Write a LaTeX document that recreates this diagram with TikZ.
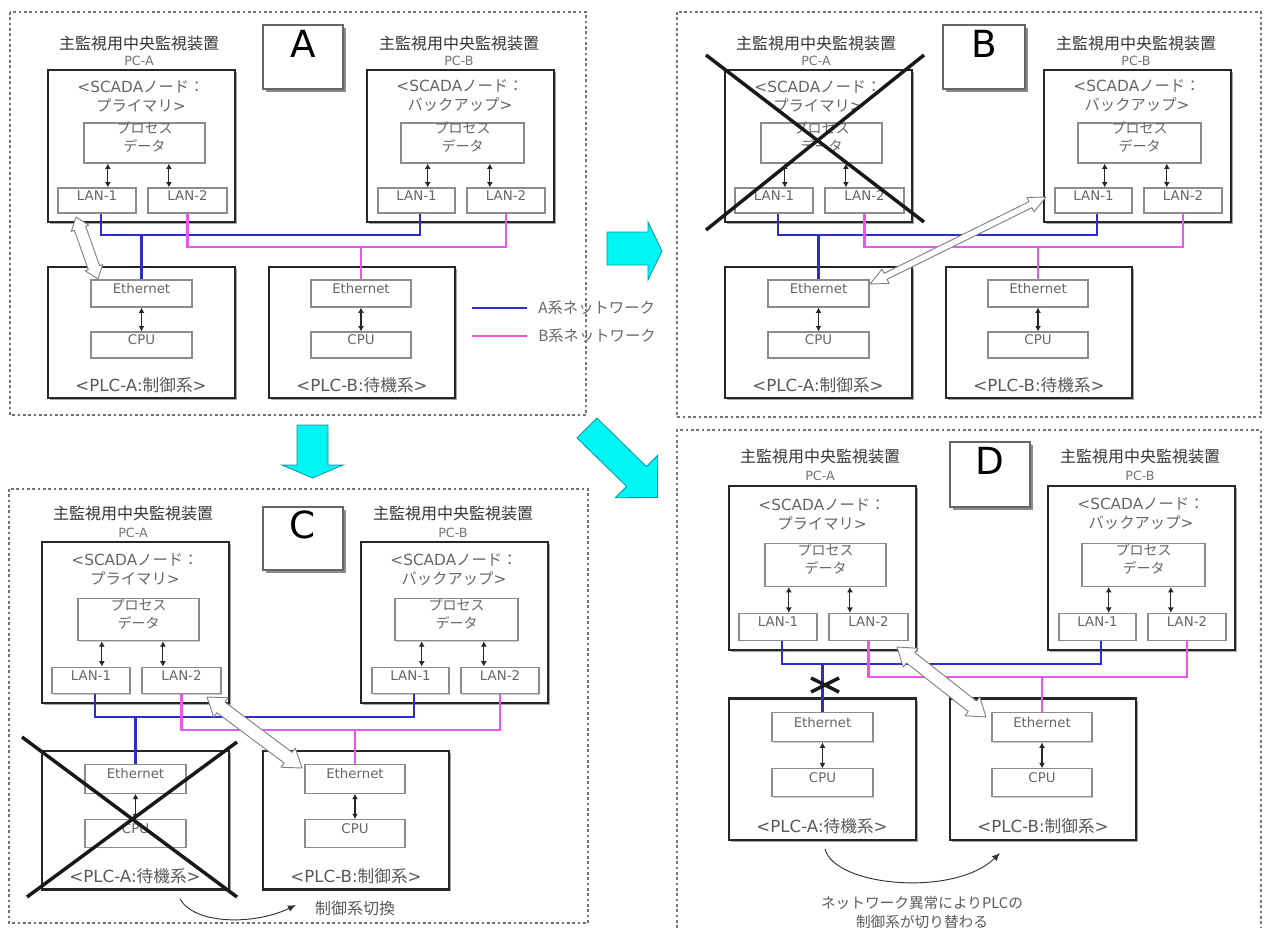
\documentclass[tikz,border=0pt]{standalone}
\usepackage{fontspec}
\setmainfont{Noto Sans CJK JP}
\newfontfamily\lat{DejaVu Sans}
\usetikzlibrary{calc,fit,arrows.meta,shadows}

\definecolor{netA}{RGB}{45,45,205}
\definecolor{netB}{RGB}{235,85,235}
\definecolor{flowcyan}{RGB}{0,245,245}
\definecolor{flowedge}{RGB}{0,150,160}

% 每个面板共用的构成（PC-A/PC-B 与 PLC-A/PLC-B）
\newcommand{\scadapanel}[2]{%
  % 上段：两台中央监视装置
  \node[titletext] (tita) at (139,43) {主監視用中央監視装置};
  \node[pctext] (pcta) at (139,61) {PC-A};
  \node[titletext] (titb) at (459,43) {主監視用中央監視装置};
  \node[pctext] (pctb) at (459,61) {PC-B};
  \node[pcbox, fit={(48,70) (235,222)}] (pca) {};
  \node[pcbox, fit={(367,70) (554,222)}] (pcb) {};
  \node[scadatext] (scda) at (141,96) {{\lat <SCADA}ノード：\\プライマリ{\lat >}};
  \node[scadatext] (scdb) at (460,96) {{\lat <SCADA}ノード：\\バックアップ{\lat >}};
  \node[databox, fit={(84,123) (205,163)}] (pda) {プロセス\\データ};
  \node[databox, fit={(401,123) (524,163)}] (pdb) {プロセス\\データ};
  \node[inbox, fit={(58,188) (136,213)}] (la1) {LAN-1};
  \node[inbox, fit={(148,188) (227,213)}] (la2) {LAN-2};
  \node[inbox, fit={(378,188) (455,213)}] (lb1) {LAN-1};
  \node[inbox, fit={(467,188) (545,213)}] (lb2) {LAN-2};
  % 数据与 LAN 之间的双向箭头
  \coordinate (pa1) at ($(pda.south west)!0.2!(pda.south east)$);
  \coordinate (pa2) at ($(pda.south west)!0.7!(pda.south east)$);
  \coordinate (pb1) at ($(pdb.south west)!0.22!(pdb.south east)$);
  \coordinate (pb2) at ($(pdb.south west)!0.72!(pdb.south east)$);
  \draw[dblarrow] (pa1) -- (pa1 |- la1.north);
  \draw[dblarrow] (pa2) -- (pa2 |- la2.north);
  \draw[dblarrow] (pb1) -- (pb1 |- lb1.north);
  \draw[dblarrow] (pb2) -- (pb2 |- lb2.north);
  % 下段：两台 PLC
  \node[pcbox, fit={(48,267) (235,398)}] (plca) {};
  \node[pcbox, fit={(269,267) (455,398)}] (plcb) {};
  \node[inbox, fit={(91,280) (192,307)}] (ea) {Ethernet};
  \node[inbox, fit={(91,332) (192,358)}] (ca) {CPU};
  \node[inbox, fit={(311,280) (411,307)}] (eb) {Ethernet};
  \node[inbox, fit={(311,332) (411,358)}] (cb) {CPU};
  \draw[dblarrow] (ea) -- (ca);
  \draw[dblarrow] (eb) -- (cb);
  \node[plctext] (plta) at (141,385) {{\lat <PLC-A:}#1{\lat >}};
  \node[plctext] (pltb) at (362,385) {{\lat <PLC-B:}#2{\lat >}};
  % A系 / B系 网络
  \coordinate (na1) at ($(la1.south west)!0.55!(la1.south east)$);
  \coordinate (nb1) at ($(lb1.south west)!0.55!(lb1.south east)$);
  \coordinate (busa) at (0,235);
  \coordinate (busb) at (0,247);
  \draw[neta] (na1) -- (na1 |- busa) -- (nb1 |- busa) -- (nb1);
  \draw[neta] (ea.north |- busa) -- (ea.north);
  \draw[netb] (la2.south) -- (la2.south |- busb) -- (lb2.south |- busb) -- (lb2.south);
  \draw[netb] (eb.north |- busb) -- (eb.north);
}

% 空心双向箭头：#1,#2 两端  #3 杆半宽  #4 箭头半宽  #5 箭头长
\newcommand{\hollowarrow}[5]{%
  \coordinate (hb1) at ($(#1)!#5!(#2)$);
  \coordinate (hb2) at ($(#2)!#5!(#1)$);
  \filldraw[hollow] (#1) -- ($(hb1)!#4!90:(#2)$) -- ($(hb1)!#3!90:(#2)$)
    -- ($(hb2)!#3!-90:(#1)$) -- ($(hb2)!#4!-90:(#1)$) -- (#2)
    -- ($(hb2)!#4!90:(#1)$) -- ($(hb2)!#3!90:(#1)$)
    -- ($(hb1)!#3!-90:(#2)$) -- ($(hb1)!#4!-90:(#2)$) -- cycle;
}

\begin{document}
\begin{tikzpicture}[x=0.75pt, y=-0.75pt,
    panelframe/.style={draw=black!55, line width=0.8pt, dash pattern=on 2pt off 2pt},
    pcbox/.style={draw=black!85, fill=white, line width=1.8pt, inner sep=0pt,
      drop shadow={shadow xshift=1.4pt, shadow yshift=-1.4pt, fill=black!35, opacity=1}},
    inbox/.style={draw=black!45, fill=white, line width=0.9pt, inner sep=0pt, align=center,
      drop shadow={shadow xshift=0.8pt, shadow yshift=-0.8pt, fill=black!20, opacity=1},
      text=black!60, font=\lat\fontsize{10}{13.5}\selectfont},
    databox/.style={inbox, font=\rmfamily\fontsize{10.5}{13.5}\selectfont},
    titletext/.style={inner sep=0pt, text=black!80, font=\fontsize{12}{14}\selectfont},
    pctext/.style={inner sep=0pt, text=black!55, font=\lat\fontsize{9.5}{11}\selectfont},
    scadatext/.style={inner sep=0pt, align=center, text=black!60, font=\fontsize{11.5}{14.25}\selectfont},
    plctext/.style={inner sep=0pt, text=black!65, font=\fontsize{12.5}{14}\selectfont},
    legendtext/.style={inner sep=0pt, anchor=west, text=black!60, font=\fontsize{11.5}{13}\selectfont},
    notetext/.style={inner sep=0pt, align=center, text=black!65, font=\fontsize{11}{14.25}\selectfont},
    dblarrow/.style={{Latex[length=4pt,width=4.5pt]}-{Latex[length=4pt,width=4.5pt]}, line width=0.8pt, draw=black!85},
    neta/.style={draw=netA, line width=1.6pt},
    netb/.style={draw=netB, line width=1.6pt},
    letterbox/.style={draw=black!60, fill=white, line width=0.8pt, inner sep=0pt,
      drop shadow={shadow xshift=2.2pt, shadow yshift=-2.2pt, fill=black!45, opacity=1},
      font=\lat\fontsize{28}{30}\selectfont},
    crossline/.style={draw=black!90, line width=2.6pt},
    hollow/.style={draw=black!50, fill=white, line width=0.7pt, line join=round},
    bigarrow/.style={draw=flowedge, fill=flowcyan, line width=0.6pt},
    switcharrow/.style={-{Latex[length=6pt,width=5pt]}, draw=black!80, line width=0.7pt},
  ]
  \useasboundingbox (0,0) rectangle (1264,928);

  % 四个面板的虚线框
  \draw[panelframe] (10,12) rectangle (586,415);
  \draw[panelframe] (677,12) rectangle (1261,417);
  \draw[panelframe] (9,489) rectangle (588,923);
  \draw[panelframe] (677,928) -- (677,430) -- (1261,430) -- (1261,928);

  % 面板 A, B, C, D
  \begin{scope}[name prefix=A-]
    \scadapanel{制御系}{待機系}
  \end{scope}
  \begin{scope}[shift={(677,0)}, name prefix=B-]
    \scadapanel{制御系}{待機系}
  \end{scope}
  \begin{scope}[shift={(-6,468)}, yscale=1.059, name prefix=C-]
    \scadapanel{待機系}{制御系}
  \end{scope}
  \begin{scope}[shift={(681,410.5)}, yscale=1.079, name prefix=D-]
    \scadapanel{待機系}{制御系}
  \end{scope}

  % 面板编号
  \node[letterbox, fit={(263,25) (343,89)}] (boxA) {A};
  \node[letterbox, fit={(943,25) (1025,89)}] (boxB) {B};
  \node[letterbox, fit={(263,507) (343,570)}] (boxC) {C};
  \node[letterbox, fit={(950,442) (1030,507)}] (boxD) {D};

  % 图例
  \coordinate (lga1) at (472,308);
  \coordinate (lga2) at (527,308);
  \coordinate (lgb1) at (472,336);
  \coordinate (lgb2) at (527,336);
  \draw[neta] (lga1) -- (lga2);
  \draw[netb] (lgb1) -- (lgb2);
  \node[legendtext] (lgta) at (538,308) {A系ネットワーク};
  \node[legendtext] (lgtb) at (538,336) {B系ネットワーク};

  % 通信路径（空心箭头）
  \coordinate (hA1) at (76,217);
  \coordinate (hA2) at (98,279);
  \hollowarrow{hA1}{hA2}{4.5pt}{7pt}{9pt}
  \coordinate (hB1) at (1046,197);
  \coordinate (hB2) at (870,284);
  \hollowarrow{hB1}{hB2}{2.5pt}{6pt}{13pt}
  \coordinate (hC1) at (207,697);
  \coordinate (hC2) at (302,768);
  \hollowarrow{hC1}{hC2}{5pt}{9pt}{13pt}
  \coordinate (hD1) at (897,647);
  \coordinate (hD2) at (986,717);
  \hollowarrow{hD1}{hD2}{5pt}{9pt}{13pt}

  % 故障标记
  \coordinate (xB1) at (706,55);
  \coordinate (xB2) at (924,222);
  \coordinate (xB3) at (706,230);
  \coordinate (xB4) at (924,55);
  \draw[crossline] (xB1) -- (xB2);
  \draw[crossline] (xB3) -- (xB4);
  \coordinate (xC1) at (22,737);
  \coordinate (xC2) at (237,897);
  \coordinate (xC3) at (27,897);
  \coordinate (xC4) at (237,742);
  \draw[crossline] (xC1) -- (xC2);
  \draw[crossline] (xC3) -- (xC4);
  \coordinate (xD1) at (811,678);
  \coordinate (xD2) at (839,692);
  \coordinate (xD3) at (811,692);
  \coordinate (xD4) at (839,678);
  \draw[crossline] (xD1) -- (xD2);
  \draw[crossline] (xD3) -- (xD4);

  % 控制系切换
  \coordinate (swC1) at (180,899);
  \coordinate (swC2) at (296,905);
  \draw[switcharrow] (swC1) .. controls (195,925) and (255,925) .. (swC2);
  \node[notetext, font=\fontsize{12}{14}\selectfont] (ntC) at (355,908) {制御系切換};
  \coordinate (swD1) at (825,849);
  \coordinate (swD2) at (1000,853);
  \draw[switcharrow] (swD1) .. controls (835,887) and (955,897) .. (swD2);
  \node[notetext] (ntD) at (922,912) {ネットワーク異常によりPLCの\\制御系が切り替わる};

  % 状态迁移箭头
  \filldraw[bigarrow] (607,232) -- (648,232) -- (648,222) -- (662,251) -- (648,280)
    -- (648,265) -- (607,265) -- cycle;
  \filldraw[bigarrow] (297,425) -- (328,425) -- (328,465) -- (343,465) -- (312.5,478)
    -- (282,465) -- (297,465) -- cycle;
  \filldraw[bigarrow] (597,418) -- (646.4,466.6) -- (657.7,455.3) -- (657.5,497.5)
    -- (615.3,497.7) -- (626.6,486.4) -- (577,438) -- cycle;

\end{tikzpicture}
\end{document}
